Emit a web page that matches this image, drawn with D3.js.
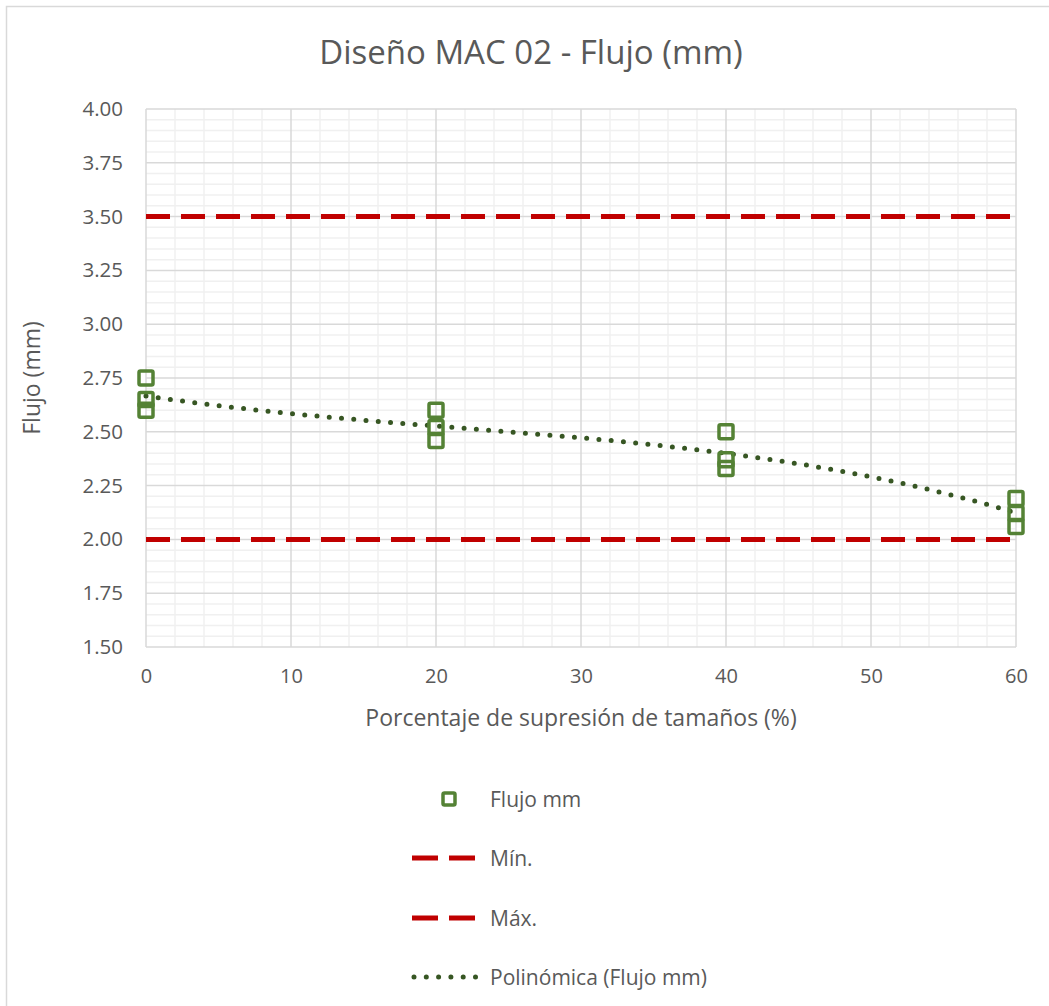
<!DOCTYPE html>
<html>
<head>
<meta charset="utf-8">
<script src="https://cdn.jsdelivr.net/npm/d3@7"></script>
<style>
  html, body { margin: 0; padding: 0; background: #fff; }
  svg { display: block; }
  text { font-family: "Open Sans", "Noto Sans", sans-serif; fill: #595959; }
</style>
</head>
<body>
<svg id="chart" width="1049" height="1006"></svg>
<script>
// Test series: suppression percentage vs. measured flow (mm), three specimens each
const supresion = [0, 0, 0, 20, 20, 20, 40, 40, 40, 60, 60, 60];
const flujo = [2.75, 2.65, 2.60, 2.60, 2.52, 2.46, 2.50, 2.37, 2.33, 2.19, 2.12, 2.06];

// Specification limits
const limiteMin = 2.00;
const limiteMax = 3.50;

// Axis ticks
const xTicks = [0, 10, 20, 30, 40, 50, 60];
const yTicks = [1.50, 1.75, 2.00, 2.25, 2.50, 2.75, 3.00, 3.25, 3.50, 3.75, 4.00];

const legendLabels = ["Flujo mm", "Mín.", "Máx.", "Polinómica (Flujo mm)"];

const svg = d3.select("#chart");
const W = 1049, H = 1006;
const plot = { left: 146, right: 1016, top: 109, bottom: 647 };

const x = d3.scaleLinear().domain([0, 60]).range([plot.left, plot.right]);
const y = d3.scaleLinear().domain([1.5, 4.0]).range([plot.bottom, plot.top]);

// chart frame
svg.append("rect").attr("x", 6.5).attr("y", 6.5).attr("width", W + 20).attr("height", H + 20)
  .attr("fill", "#fff").attr("stroke", "#d9d9d9").attr("stroke-width", 1.5);

// minor gridlines
const g = svg.append("g");
g.selectAll(".xmin").data(d3.range(0, 61, 2).filter(v => v % 10 !== 0)).join("line")
  .attr("x1", d => x(d)).attr("x2", d => x(d)).attr("y1", plot.top).attr("y2", plot.bottom)
  .attr("stroke", "#f0f0f0").attr("stroke-width", 1.5);
g.selectAll(".ymin").data(d3.range(1.5, 4.0001, 0.05).filter(v => Math.abs(v * 4 - Math.round(v * 4)) > 1e-6)).join("line")
  .attr("x1", plot.left).attr("x2", plot.right).attr("y1", d => y(d)).attr("y2", d => y(d))
  .attr("stroke", "#f0f0f0").attr("stroke-width", 1.5);

// major gridlines
g.selectAll(".xmaj").data(xTicks).join("line")
  .attr("x1", d => x(d)).attr("x2", d => x(d)).attr("y1", plot.top).attr("y2", plot.bottom)
  .attr("stroke", "#d9d9d9").attr("stroke-width", 1.5);
g.selectAll(".ymaj").data(yTicks).join("line")
  .attr("x1", plot.left).attr("x2", plot.right).attr("y1", d => y(d)).attr("y2", d => y(d))
  .attr("stroke", "#d9d9d9").attr("stroke-width", 1.5);

// axes (labels only)
const xAxis = svg.append("g").attr("transform", `translate(0,${plot.bottom})`)
  .call(d3.axisBottom(x).tickValues(xTicks).tickSize(0).tickPadding(22).tickFormat(d3.format("d")));
xAxis.select(".domain").remove();
xAxis.selectAll("text").attr("font-size", 20).attr("fill", "#595959")
  .style("font-family", '"Open Sans", sans-serif');

const yAxis = svg.append("g").attr("transform", `translate(${plot.left},0)`)
  .call(d3.axisLeft(y).tickValues(yTicks).tickSize(0).tickPadding(23).tickFormat(d3.format(".2f")));
yAxis.select(".domain").remove();
yAxis.selectAll("text").attr("font-size", 20.5).attr("fill", "#595959")
  .style("font-family", '"Open Sans", sans-serif');

// limit lines
const redDash = "24,11";
[limiteMin, limiteMax].forEach(v => {
  svg.append("line").attr("x1", x(0)).attr("x2", x(60)).attr("y1", y(v)).attr("y2", y(v))
    .attr("stroke", "#c00000").attr("stroke-width", 5).attr("stroke-dasharray", redDash);
});

// polynomial least-squares trend (order 3) of the measurements
function polyfit(xs, ys, order) {
  const m = order + 1;
  const A = Array.from({ length: m }, () => new Array(m + 1).fill(0));
  xs.forEach((xi, i) => {
    for (let r = 0; r < m; r++) {
      for (let c = 0; c < m; c++) A[r][c] += Math.pow(xi, r + c);
      A[r][m] += ys[i] * Math.pow(xi, r);
    }
  });
  for (let i = 0; i < m; i++) {
    let p = i;
    for (let j = i + 1; j < m; j++) if (Math.abs(A[j][i]) > Math.abs(A[p][i])) p = j;
    [A[i], A[p]] = [A[p], A[i]];
    for (let j = i + 1; j < m; j++) {
      const f = A[j][i] / A[i][i];
      for (let k = i; k <= m; k++) A[j][k] -= f * A[i][k];
    }
  }
  const c = new Array(m).fill(0);
  for (let i = m - 1; i >= 0; i--) {
    let sum = A[i][m];
    for (let k = i + 1; k < m; k++) sum -= A[i][k] * c[k];
    c[i] = sum / A[i][i];
  }
  return v => c.reduce((s, ck, k) => s + ck * Math.pow(v, k), 0);
}
const trend = polyfit(supresion, flujo, 3);
const trendPts = d3.range(0, 60.001, 0.5).map(v => [v, trend(v)]);

const trendColor = "#375623";
svg.append("path").datum(trendPts)
  .attr("d", d3.line().x(d => x(d[0])).y(d => y(d[1])))
  .attr("fill", "none").attr("stroke", trendColor).attr("stroke-width", 5)
  .attr("stroke-linecap", "round").attr("stroke-dasharray", "0,12.3");

// measurement markers
const mk = 14;
svg.selectAll(".pt").data(supresion.map((d, i) => [d, flujo[i]])).join("rect")
  .attr("x", d => x(d[0]) - mk / 2).attr("y", d => y(d[1]) - mk / 2)
  .attr("width", mk).attr("height", mk).attr("rx", 1.5)
  .attr("fill", "none").attr("stroke", "#548235").attr("stroke-width", 3.5);

// title
svg.append("text").attr("x", 531).attr("y", 64).attr("text-anchor", "middle")
  .attr("font-size", 33).text("Diseño MAC 02 - Flujo (mm)");

// axis titles
svg.append("text").attr("x", x(30)).attr("y", 726).attr("text-anchor", "middle")
  .attr("font-size", 23).text("Porcentaje de supresión de tamaños (%)");
svg.append("text").attr("transform", `translate(40,${y(2.75)}) rotate(-90)`).attr("text-anchor", "middle")
  .attr("font-size", 23).text("Flujo (mm)");

// legend
const lg = svg.append("g");
const rows = [799, 858, 918, 977];
lg.append("rect").attr("x", 449 - 6).attr("y", rows[0] - 6).attr("width", 12).attr("height", 12).attr("rx", 1.5)
  .attr("fill", "none").attr("stroke", "#548235").attr("stroke-width", 3.5);
[1, 2].forEach(i => {
  lg.append("line").attr("x1", 412).attr("x2", 476).attr("y1", rows[i]).attr("y2", rows[i])
    .attr("stroke", "#c00000").attr("stroke-width", 5).attr("stroke-dasharray", "26,11");
});
lg.append("line").attr("x1", 414).attr("x2", 477).attr("y1", rows[3]).attr("y2", rows[3])
  .attr("stroke", trendColor).attr("stroke-width", 5).attr("stroke-linecap", "round").attr("stroke-dasharray", "0,12.3");
lg.selectAll(".lt").data(legendLabels).join("text")
  .attr("x", 490).attr("y", (d, i) => rows[i] + 8).attr("font-size", 21).text(d => d);
</script>
</body>
</html>
